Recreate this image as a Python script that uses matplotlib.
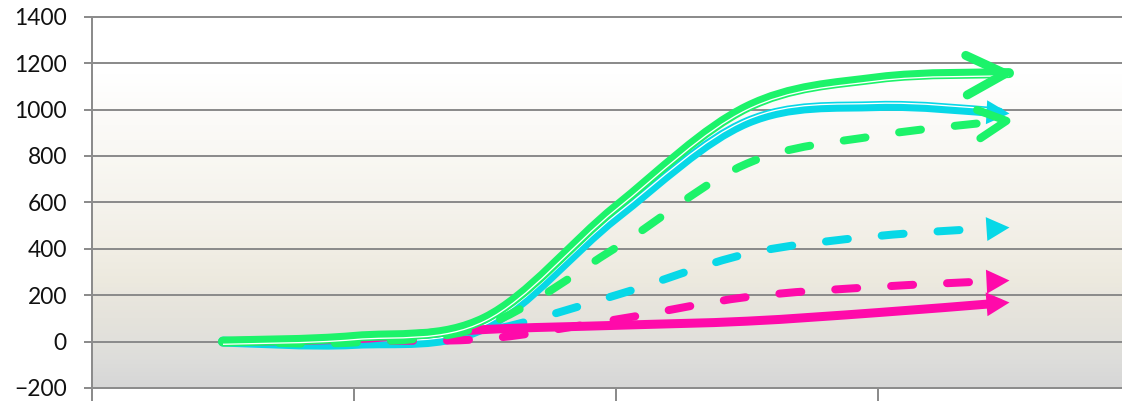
import numpy as np
import matplotlib
matplotlib.use("Agg")
import matplotlib.pyplot as plt
from matplotlib.path import Path
from matplotlib.patches import PathPatch
from matplotlib.markers import MarkerStyle
from matplotlib.transforms import Affine2D
import matplotlib.patheffects as pe

plt.rcParams['font.family'] = ['Lato', 'DejaVu Sans']

# positions along the category axis (half steps between the 4 categories)
x_pos = [0, 0.5, 1, 1.5, 2, 2.5, 3]

green_solid = [0, 20, 100, 580, 1010, 1135, 1157]
cyan_solid = [0, -10, 62, 535, 945, 1015, 984]
green_dash = [0, -4, 70, 405, 767, 888, 954]
cyan_dash = [0, -5, 45, 200, 378, 455, 493]
pink_dash = [0, 4, 12, 95, 192, 236, 264]
pink_solid = [0, 12, 52, 70, 88, 125, 169]

y_ticks = [-200, 0, 200, 400, 600, 800, 1000, 1200, 1400]
cat_edges = [-0.5, 0.5, 1.5, 2.5, 3.5]

GREEN = '#1cf36a'
CYAN = '#07d8e7'
PINK = '#ff0aaa'
GRID = '#8c8c8c'

PX = 0.72  # points per pixel at dpi 100

fig = plt.figure(figsize=(11.22, 4.01), dpi=100)
ax = fig.add_axes([92 / 1122, 13 / 401, 1048 / 1122, 371.3 / 401])
ax.set_xlim(-0.5, 3.5)
ax.set_ylim(-200, 1400)

# background gradient (white on top, beige, grey at the bottom)
stops_v = [-200, -100, 0, 100, 200, 250, 400, 600, 800, 1000, 1150, 1400]
stops_c = ['#d6d6d6', '#dcdcda', '#e1e0db', '#e5e3dc', '#e9e6de', '#ece9de',
           '#f1eee5', '#f5f3ed', '#f9f8f3', '#fcfbf9', '#ffffff', '#ffffff']
rgb = np.array([matplotlib.colors.to_rgb(c) for c in stops_c])
vals = np.linspace(1400, -200, 400)
grad = np.stack([np.interp(vals, stops_v, rgb[:, k]) for k in range(3)], axis=1)
ax.imshow(grad[:, None, :], extent=[-0.5, 3.5, -200, 1400], aspect='auto',
          interpolation='bilinear', zorder=0)

ax.set_axisbelow(True)
ax.yaxis.grid(True, color=GRID, linewidth=2 * PX)
for gl in ax.get_ygridlines():
    gl.set_clip_on(False)

ax.set_yticks(y_ticks)
ax.set_xticks(cat_edges)
ax.set_xticklabels([])
ax.tick_params(axis='y', length=8 * PX, width=2 * PX, color=GRID, pad=17 * PX,
               labelsize=16.4, labelcolor='#111111')
ax.tick_params(axis='x', length=13 * PX, width=2 * PX, color=GRID)
for s in ['top', 'right']:
    ax.spines[s].set_visible(False)
for s in ['left', 'bottom']:
    ax.spines[s].set_color(GRID)
    ax.spines[s].set_linewidth(2 * PX)


def smooth_path(xs, ys, cut_px=0):
    pts = np.column_stack([xs, ys]).astype(float)
    n = len(pts)
    verts = [pts[0]]
    codes = [Path.MOVETO]
    for i in range(n - 1):
        p_prev = pts[max(i - 1, 0)]
        p_next = pts[min(i + 2, n - 1)]
        c1 = pts[i] + (pts[i + 1] - p_prev) / 6
        c2 = pts[i + 1] - (p_next - pts[i]) / 6
        verts += [c1, c2, pts[i + 1]]
        codes += [Path.CURVE4] * 3
    verts = np.array(verts)
    if cut_px:
        # stop the line inside the arrow head
        a, b, c, d = verts[-4:]
        disp = ax.transData.transform([a, d])
        t = 1 - cut_px / np.hypot(*(disp[1] - disp[0]))
        ab = a + (b - a) * t
        bc = b + (c - b) * t
        cd = c + (d - c) * t
        abc = ab + (bc - ab) * t
        bcd = bc + (cd - bc) * t
        verts[-3:] = [ab, abc, abc + (bcd - abc) * t]
    return Path(verts, codes)


def end_angle(xs, ys):
    disp = ax.transData.transform([[xs[-2], ys[-2]], [xs[-1], ys[-1]]])
    d = disp[1] - disp[0]
    return np.arctan2(d[1], d[0])


TRI = Path([(0, 0), (-1, 0.52), (-1, -0.52), (0, 0)],
           [Path.MOVETO, Path.LINETO, Path.LINETO, Path.CLOSEPOLY])
CHEV = Path([(-1, 0.46), (-0.1, 0), (-1, -0.46)],
            [Path.MOVETO, Path.LINETO, Path.LINETO])


def draw_series(ys, color, lw_px, dashed=False, compound=0, head='tri',
                head_px=23, head_lw_px=8, z=3):
    cut = 16 if head == 'tri' else 0
    patch = PathPatch(smooth_path(x_pos, ys, cut), fill=False, edgecolor=color,
                      linewidth=lw_px * PX, capstyle='round', joinstyle='round',
                      zorder=z)
    if dashed:
        patch.set_linestyle((0, (2.75, 4.25)))
    if compound:
        # thick-thin double line: white gap on one side of the stroke
        patch.set_path_effects([pe.Normal(),
                                pe.Stroke(offset=(0, compound * 2.7 * PX),
                                          linewidth=1.3 * PX, foreground='white',
                                          capstyle='butt')])
    ax.add_patch(patch)

    rot = Affine2D().rotate(end_angle(x_pos, ys))
    if head == 'tri':
        m = MarkerStyle(TRI, transform=rot)
        ax.plot([x_pos[-1]], [ys[-1]], linestyle='none', marker=m,
                ms=2 * head_px * PX, mfc=color, mew=0, zorder=z + 0.5)
    else:
        m = MarkerStyle(CHEV, fillstyle='none', transform=rot,
                        capstyle='round', joinstyle='round')
        ax.plot([x_pos[-1]], [ys[-1]], linestyle='none', marker=m,
                ms=2 * head_px * PX, mec=color, mew=head_lw_px * PX,
                zorder=z + 0.5)


draw_series(cyan_dash, CYAN, 8, dashed=True, z=3)
draw_series(cyan_solid, CYAN, 10, compound=1, z=4)
draw_series(pink_dash, PINK, 8, dashed=True, z=5)
draw_series(pink_solid, PINK, 9, z=6)
draw_series(green_dash, GREEN, 8, dashed=True, head='chev', head_px=31,
            head_lw_px=8, z=7)
draw_series(green_solid, GREEN, 10, compound=-1, head='chev', head_px=43,
            head_lw_px=9, z=8)

fig.savefig('out.png', dpi=100)
